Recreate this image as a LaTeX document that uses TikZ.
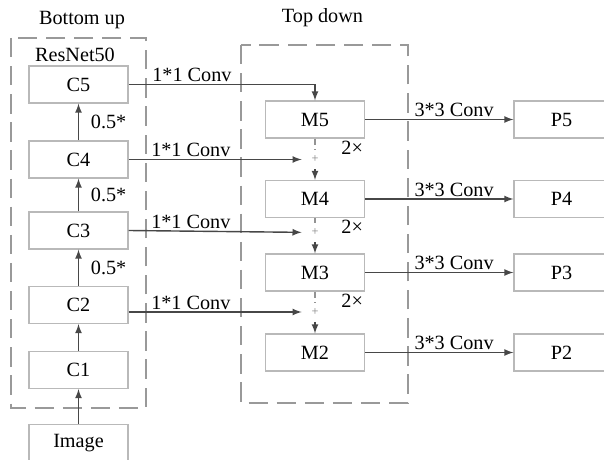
\documentclass[tikz,border=0pt]{standalone}
\usepackage{fontspec}
\setmainfont{Liberation Serif}
\usetikzlibrary{arrows,positioning}

\tikzset{
  blk/.style={draw=gray!55, line width=0.6pt, minimum width=1.98cm, minimum height=0.74cm, inner sep=0pt},
  group/.style={draw=gray!80, line width=0.9pt, dash pattern=on 11pt off 5pt},
  flow/.style={draw=black!72, line width=0.8pt, -latex},
  skip/.style={draw=gray!85, line width=0.8pt, dash pattern=on 3.5pt off 2.5pt},
  lbl/.style={inner sep=1pt},
  add/.style={text=gray, font=\scriptsize, inner sep=0pt, minimum width=0.52cm, minimum height=0.38cm},
}

\begin{document}
\begin{tikzpicture}[font=\fontsize{11.5}{13}\selectfont]
		\useasboundingbox (0,0) rectangle (12.08,9.2);
		
		% Dashed groups and their titles
		\draw[group] (0.22,8.44) rectangle (2.92,1.04);
		\draw[group] (4.82,8.30) rectangle (8.16,1.14);
		\node (bu) at (1.64,8.80) {Bottom up};
		\node (td) at (6.45,8.84) {Top down};
		\node (res) at (1.50,8.10) {ResNet50};
		
		% Bottom up column
		\node[blk] (C5) at (1.57,7.51) {C5};
		\node[blk] (C4) at (1.57,6.01) {C4};
		\node[blk] (C3) at (1.57,4.59) {C3};
		\node[blk] (C2) at (1.57,3.10) {C2};
		\node[blk] (C1) at (1.57,1.80) {C1};
		\node[blk] (img) at (1.57,0.34) {Image};
		
		\draw[flow] (img) -- (C1);
		\draw[flow] (C1) -- (C2);
		\draw[flow] (C2) -- node[lbl, right=0.2cm] {0.5*} (C3);
		\draw[flow] (C3) -- node[lbl, right=0.2cm] {0.5*} (C4);
		\draw[flow] (C4) -- node[lbl, right=0.2cm] {0.5*} (C5);
		
		% Top down column
		\node[blk] (M5) at (6.30,6.81) {M5};
		\node[blk] (M4) at (6.30,5.22) {M4};
		\node[blk] (M3) at (6.30,3.75) {M3};
		\node[blk] (M2) at (6.30,2.15) {M2};
		
		% the sums
		\node[add] (add4) at (M5 |- C4) {+};
		\node[add] (add3) at (6.30,4.55) {+};
		\node[add] (add2) at (6.30,2.96) {+};
		
		% lateral 1*1 convolutions
		\draw[flow] (C5.east) -| node[lbl, above, pos=0.17] {1*1 Conv} (M5.north);
		\draw[flow] (C4.east) -- node[lbl, above, pos=0.36] {1*1 Conv} (add4);
		\draw[flow] (C3.east) -- node[lbl, above, pos=0.36] {1*1 Conv} (add3);
		\draw[flow] (C2.east |- add2) -- node[lbl, above, pos=0.36] {1*1 Conv} (add2);
		
		% upsampling 2x
		\foreach \hi/\lo in {5/4,4/3,3/2}{
			\draw[skip] (M\hi) -- (add\lo);
			\draw[flow, dash pattern=on 3.5pt off 2.5pt] (add\lo) -- (M\lo);
			\node[lbl, anchor=north east] at (M\hi.south east) {2×};
		}
		
		% Outputs
		\foreach \k/\y in {5/6.81,4/5.22,3/3.75,2/2.15}{
			\node[blk, minimum width=1.90cm] (P\k) at (11.23,\y) {P\k};
			\draw[flow] (M\k) -- node[lbl, above, pos=0.6] {3*3 Conv} (P\k);
		}
	\end{tikzpicture}
\end{document}
